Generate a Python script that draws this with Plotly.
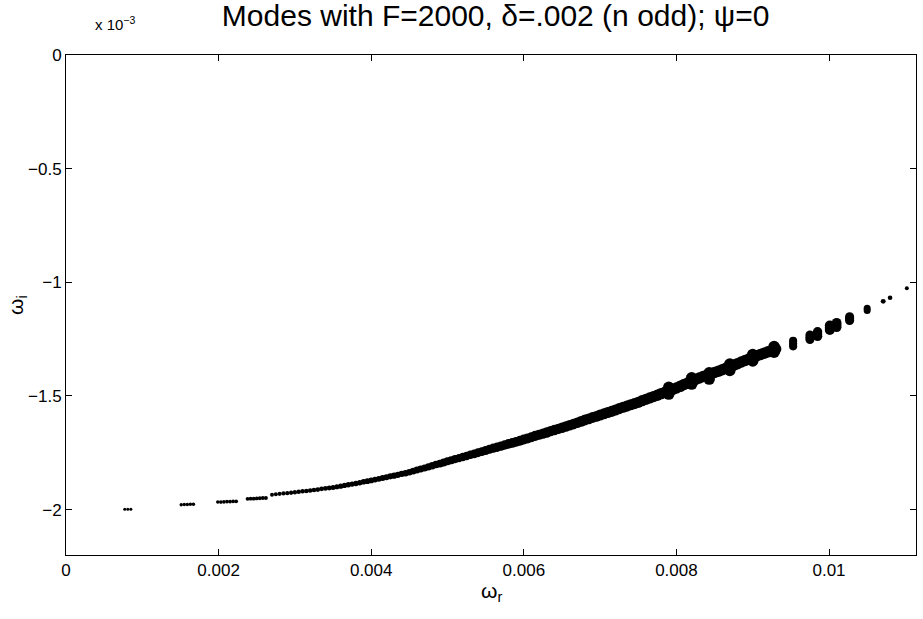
import numpy as np
import plotly.graph_objects as go

# ---- data (omega_i in units of 1e-3) ----
# sparse leading modes
omega_r_sparse = [0.00077, 0.00081, 0.00085,
                  0.00151, 0.00155, 0.00159, 0.00163, 0.00167,
                  0.00199, 0.00203, 0.00207, 0.00211, 0.00215, 0.00219, 0.00223,
                  0.00238, 0.00242, 0.00246, 0.00250, 0.00254, 0.00258, 0.00262]
omega_i_sparse = [-1.999, -1.999, -1.999,
                  -1.979, -1.978, -1.978, -1.977, -1.977,
                  -1.967, -1.967, -1.966, -1.965, -1.965, -1.964, -1.964,
                  -1.953, -1.952, -1.952, -1.951, -1.950, -1.949, -1.949]

# dense band of modes
omega_r_band = [0.00270, 0.00275, 0.00280, 0.00285, 0.00290, 0.00295, 0.00300, 0.00305,
                0.00310, 0.00315, 0.00320, 0.00325, 0.00330, 0.00335, 0.00340, 0.00345,
                0.00350, 0.00355, 0.00360, 0.00365, 0.00370, 0.00375, 0.00380, 0.00385,
                0.00390, 0.00395, 0.00400, 0.00405, 0.00410, 0.00415, 0.00420, 0.00425,
                0.00430, 0.00435, 0.00440, 0.00445, 0.00450, 0.00455, 0.00460, 0.00465,
                0.00470, 0.00475, 0.00480, 0.00485, 0.00490, 0.00495, 0.00500,
                0.00505, 0.00510, 0.00515, 0.00520, 0.00525, 0.00530, 0.00535, 0.00540,
                0.00545, 0.00550, 0.00555, 0.00560, 0.00565, 0.00570, 0.00575, 0.00580,
                0.00585, 0.00590, 0.00595, 0.00600, 0.00605, 0.00610, 0.00615, 0.00620,
                0.00625, 0.00630, 0.00635, 0.00640, 0.00645, 0.00650, 0.00655, 0.00660,
                0.00665, 0.00670, 0.00675, 0.00680, 0.00685, 0.00690, 0.00695, 0.00700,
                0.00705, 0.00710, 0.00715, 0.00720, 0.00725, 0.00730, 0.00735, 0.00740,
                0.00745, 0.00750, 0.00755, 0.00760, 0.00765, 0.00770, 0.00775, 0.00780,
                0.00785, 0.00790, 0.00795, 0.00800, 0.00805, 0.00810, 0.00815, 0.00820,
                0.00825, 0.00830, 0.00835, 0.00840, 0.00845, 0.00850, 0.00855, 0.00860,
                0.00865, 0.00870, 0.00875, 0.00880, 0.00885, 0.00890, 0.00895, 0.00900,
                0.00905, 0.00910, 0.00915, 0.00920, 0.00925, 0.00930]
omega_i_band = [-1.935, -1.933, -1.931, -1.929, -1.928, -1.926, -1.924, -1.922,
                -1.920, -1.918, -1.916, -1.914, -1.912, -1.909, -1.907, -1.905,
                -1.903, -1.900, -1.897, -1.894, -1.891, -1.888, -1.885, -1.882,
                -1.878, -1.875, -1.872, -1.868, -1.865, -1.861, -1.858, -1.854,
                -1.851, -1.847, -1.843, -1.840, -1.836, -1.831, -1.826, -1.822,
                -1.817, -1.812, -1.807, -1.802, -1.798, -1.793, -1.788,
                -1.783, -1.778, -1.774, -1.769, -1.764, -1.759, -1.755, -1.750,
                -1.745, -1.740, -1.735, -1.730, -1.726, -1.721, -1.716, -1.711,
                -1.707, -1.702, -1.697, -1.692, -1.687, -1.682, -1.676, -1.671,
                -1.666, -1.661, -1.655, -1.650, -1.645, -1.640, -1.635, -1.629,
                -1.624, -1.618, -1.612, -1.606, -1.601, -1.595, -1.590, -1.584,
                -1.579, -1.573, -1.568, -1.562, -1.556, -1.550, -1.545, -1.539,
                -1.534, -1.528, -1.521, -1.515, -1.509, -1.503, -1.497, -1.490,
                -1.484, -1.478, -1.472, -1.465, -1.458, -1.450, -1.443, -1.435,
                -1.428, -1.421, -1.415, -1.409, -1.403, -1.397, -1.391, -1.385,
                -1.378, -1.372, -1.365, -1.358, -1.351, -1.344, -1.338, -1.331,
                -1.324, -1.318, -1.312, -1.306, -1.300, -1.294]

# clustered modes at high omega_r
omega_r_clusters = [0.00790, 0.00790,
                    0.00820, 0.00820,
                    0.00843, 0.00843,
                    0.00870, 0.00870,
                    0.00900, 0.00900,
                    0.00928, 0.00928,
                    0.00953, 0.00953, 0.00953,
                    0.00975, 0.00975, 0.00975,
                    0.00985, 0.00985, 0.00985,
                    0.01001, 0.01001, 0.01001,
                    0.01010, 0.01010, 0.01010,
                    0.01027, 0.01027, 0.01027,
                    0.01050, 0.01050,
                    0.01071, 0.01080, 0.01102]
omega_i_clusters = [-1.462, -1.492,
                    -1.420, -1.448,
                    -1.398, -1.426,
                    -1.360, -1.388,
                    -1.318, -1.346,
                    -1.283, -1.308,
                    -1.258, -1.270, -1.282,
                    -1.232, -1.242, -1.252,
                    -1.218, -1.228, -1.238,
                    -1.190, -1.200, -1.210,
                    -1.178, -1.188, -1.198,
                    -1.152, -1.160, -1.168,
                    -1.114, -1.124,
                    -1.084, -1.068, -1.026]

x_ticks = [0, 0.002, 0.004, 0.006, 0.008, 0.01]
x_tick_labels = ["0", "0.002", "0.004", "0.006", "0.008", "0.01"]
y_ticks = [0, -0.5, -1, -1.5, -2]
y_tick_labels = ["0", "\u22120.5", "\u22121", "\u22121.5", "\u22122"]

# ---- figure ----
omega_r = np.array(omega_r_sparse + omega_r_band + omega_r_clusters)
omega_i = np.array(omega_i_sparse + omega_i_band + omega_i_clusters) * 1e-3

# marker size grows along the branch (style only)
size_x = [0.0007, 0.0027, 0.0035, 0.0045, 0.0050, 0.0055, 0.0060, 0.0070, 0.0080,
          0.0093, 0.0095, 0.0100, 0.0103, 0.0105, 0.0107, 0.0110]
size_v = [3, 4, 5, 6.5, 8, 9, 10, 11, 11.5, 11.5, 8, 10, 9, 7, 5, 4]
sizes = np.interp(omega_r, size_x, size_v)

FONT = "Liberation Sans, Arial, Helvetica, sans-serif"

fig = go.Figure()
fig.add_trace(go.Scatter(
    x=omega_r, y=omega_i, mode="markers",
    marker=dict(color="black", size=sizes, opacity=1, line=dict(width=0)),
    showlegend=False, hoverinfo="skip"))

axis_common = dict(showline=True, linecolor="black", linewidth=1, mirror="ticks",
                   ticks="inside", ticklen=6, tickcolor="black", showgrid=False,
                   zeroline=False, tickfont=dict(family=FONT, size=17, color="black"))

fig.update_layout(
    width=923, height=619,
    margin=dict(l=66, r=7, t=55, b=64),
    paper_bgcolor="white", plot_bgcolor="white",
    title=dict(text="Modes with F=2000, \u03b4=.002 (n odd); \u03c8=0",
               x=0.537, xanchor="center", y=0.992, yanchor="top",
               font=dict(family=FONT, size=30, color="black")),
    xaxis=dict(range=[0, 0.01114], tickvals=x_ticks, ticktext=x_tick_labels, **axis_common),
    yaxis=dict(range=[-0.0022, 0], tickvals=[v * 1e-3 for v in y_ticks],
               ticktext=y_tick_labels, **axis_common),
    annotations=[
        dict(text="x 10<sup>\u22123</sup>", xref="paper", yref="paper", x=0.032, y=1.0,
             xanchor="left", yanchor="bottom", yshift=20, showarrow=False,
             font=dict(family=FONT, size=15, color="black")),
        dict(text="\u03c9<sub>r</sub>", xref="paper", yref="paper", x=0.5, y=0,
             xanchor="center", yanchor="top", yshift=-22, showarrow=False,
             font=dict(family=FONT, size=21, color="black")),
        dict(text="\u03c9<sub>i</sub>", xref="paper", yref="paper", x=0, y=0.5,
             xanchor="right", yanchor="middle", xshift=-34, textangle=-90, showarrow=False,
             font=dict(family=FONT, size=21, color="black")),
    ],
)

fig.write_html("out.html")
